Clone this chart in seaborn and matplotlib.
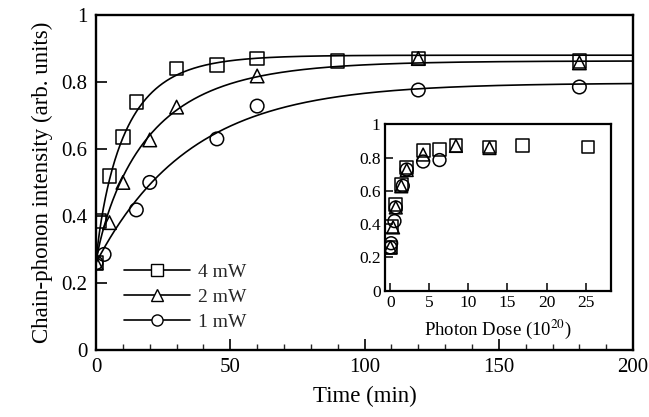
import numpy as np
import pandas as pd
import matplotlib
matplotlib.use("Agg")
import matplotlib.pyplot as plt
from matplotlib.lines import Line2D
from matplotlib.ticker import MultipleLocator
import seaborn as sns

# measured points, main panel (time in min, intensity)
t_4mw = [0, 1, 5, 10, 15, 30, 45, 60, 90, 120, 180]
i_4mw = [0.26, 0.385, 0.52, 0.636, 0.74, 0.84, 0.85, 0.87, 0.863, 0.87, 0.863]
t_2mw = [0, 5, 10, 20, 30, 60, 120, 180]
i_2mw = [0.26, 0.38, 0.50, 0.627, 0.725, 0.818, 0.87, 0.857]
t_1mw = [0, 3, 15, 20, 45, 60, 120, 180]
i_1mw = [0.26, 0.285, 0.418, 0.50, 0.63, 0.728, 0.776, 0.785]

# inset: photon dose (10^20)
d_4mw = [0.0, 0.15, 0.7, 1.4, 2.1, 4.2, 6.3, 8.4, 12.7, 16.9, 25.3]
d_2mw = [0.0, 0.35, 0.7, 1.4, 2.1, 4.2, 8.4, 12.7]
d_1mw = [0.0, 0.1, 0.53, 0.7, 1.6, 2.1, 4.2, 6.3]

# fitted saturation curves: plateau, amplitude, tau (min), stretch exponent
fit_plateau = [0.88, 0.863, 0.797]
fit_amp = [0.62, 0.603, 0.537]
fit_tau = [11.0, 20.0, 35.0]
fit_beta = [0.85, 0.85, 1.0]

labels = ["4 mW", "2 mW", "1 mW"]
markers = ["s", "^", "o"]

sns.set_theme(style="ticks")
plt.rcParams["font.family"] = ["Liberation Serif", "DejaVu Serif"]
plt.rcParams["mathtext.fontset"] = "stix"

fig = plt.figure(figsize=(6.49, 4.17), dpi=100)
ax = fig.add_axes([0.148, 0.161, 0.8275, 0.803])

series = [(t_4mw, i_4mw, d_4mw), (t_2mw, i_2mw, d_2mw), (t_1mw, i_1mw, d_1mw)]

tt = np.linspace(0, 200, 801)
for k in range(3):
    fit = fit_plateau[k] - fit_amp[k] * np.exp(-(tt / fit_tau[k]) ** fit_beta[k])
    sns.lineplot(x=tt, y=fit, ax=ax, color="black", lw=1.2)

for k, (t, y, d) in enumerate(series):
    sns.scatterplot(x=t, y=y, ax=ax, marker=markers[k], s=95,
                    facecolor="none", edgecolor="black", linewidth=1.1, zorder=3)

ax.set_xlim(0, 200)
ax.set_ylim(0, 1)
ax.xaxis.set_major_locator(MultipleLocator(50))
ax.xaxis.set_minor_locator(MultipleLocator(10))
ax.set_yticks([0, 0.2, 0.4, 0.6, 0.8, 1.0])
ax.set_yticklabels(["0", "0.2", "0.4", "0.6", "0.8", "1"])
ax.tick_params(axis="both", which="major", direction="in", length=8, width=1.2,
               labelsize=15, pad=6, color="black", labelcolor="black")
ax.tick_params(axis="x", which="minor", direction="in", length=4, width=1.0)
for sp in ax.spines.values():
    sp.set_linewidth(1.7)
    sp.set_color("black")
ax.set_xlabel("Time (min)", fontsize=16.5, labelpad=6, color="black")
ax.set_ylabel("Chain-phonon intensity (arb. units)", fontsize=16.5, labelpad=6, color="black")

handles = [Line2D([0], [0], color="black", lw=1.2, marker=m, markersize=8,
                  markerfacecolor="white", markeredgecolor="black", markeredgewidth=1.0)
           for m in markers]
ax.legend(handles, labels, loc="lower left", bbox_to_anchor=(0.02, 0.005),
          frameon=False, fontsize=14, handlelength=3.4, numpoints=1,
          handletextpad=0.4, labelspacing=0.38)

# inset
ins = fig.add_axes([0.593, 0.303, 0.349, 0.399])
for k, (t, y, d) in enumerate(series):
    sns.scatterplot(x=d, y=y, ax=ins, marker=markers[k], s=85,
                    facecolor="none", edgecolor="black", linewidth=1.1, zorder=3)
ins.set_xlim(-0.7, 28.3)
ins.set_ylim(0, 1)
ins.set_xticks([0, 5, 10, 15, 20, 25])
ins.set_yticks([0, 0.2, 0.4, 0.6, 0.8, 1.0])
ins.set_yticklabels(["0", "0.2", "0.4", "0.6", "0.8", "1"])
ins.tick_params(axis="both", direction="in", length=6, width=1.1, labelsize=12.5,
                pad=3, color="black", labelcolor="black")
for sp in ins.spines.values():
    sp.set_linewidth(1.6)
    sp.set_color("black")
ins.set_xlabel("Photon Dose (10$^{20}$)", fontsize=13.5, labelpad=5, color="black")

fig.savefig("out.png", dpi=100)
